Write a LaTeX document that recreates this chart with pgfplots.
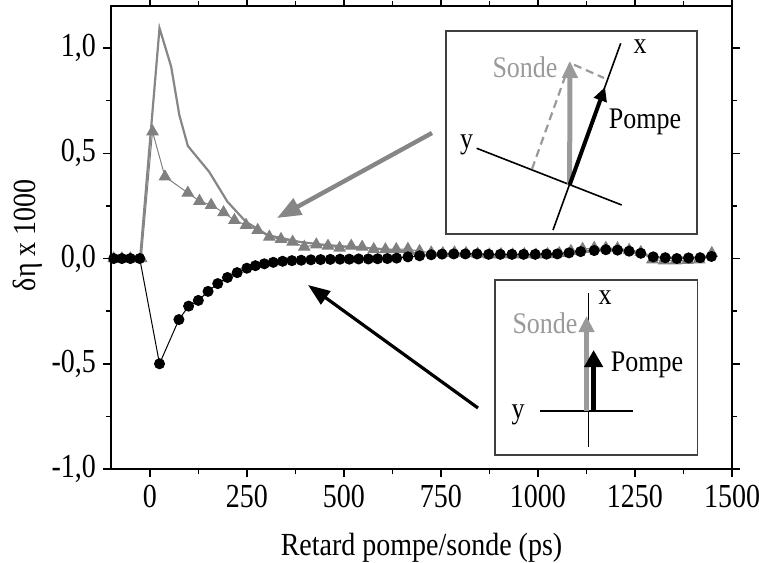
\documentclass[border=0pt]{standalone}
\usepackage{fontspec}
\setmainfont{Liberation Serif}
\usepackage{pgfplots}
\pgfplotsset{compat=1.18}
\usetikzlibrary{arrows.meta}
\definecolor{markgray}{HTML}{808080}
\definecolor{linegray}{HTML}{868686}
\definecolor{lightgray}{HTML}{9A9A9A}

\begin{document}
\begin{tikzpicture}
\path[use as bounding box] (-55.5pt,-46.5pt) rectangle (324pt,234.5pt);
\begin{axis}[
  at={(0pt,0pt)}, anchor=south west,
  scale only axis, width=310.5pt, height=231.5pt,
  xmin=-100, xmax=1500, ymin=-1, ymax=1.2,
  xtick distance=250, minor x tick num=1,
  ytick distance=0.5, minor y tick num=1,
  tick align=outside,
  major tick length=4pt, minor tick length=2.5pt,
  axis line style={line width=0.75pt},
  tick style={black, line width=0.75pt},
  /pgf/number format/.cd, use comma, 1000 sep={}, assume math mode=true,
  /pgfplots/.cd,
  yticklabel style={/pgf/number format/.cd, fixed, fixed zerofill, precision=1},
  tick label style={font=\fontsize{14}{16}\selectfont, yscale=1.2},
  label style={font=\fontsize{14}{16}\selectfont, yscale=1.15},
  xlabel={Retard pompe/sonde (ps)},
  ylabel={δη x 1000},
  xlabel style={at={(axis description cs:0.5,0)}, anchor=center, yshift=-34.3pt},
  ylabel style={at={(axis description cs:0,0.505)}, anchor=center, yshift=36.1pt},
]
% triangles
\addplot[markgray, line width=0.5pt, mark=triangle*, mark size=3.2pt,
  mark options={fill=markgray, draw=markgray}] coordinates {
(-93,0) (-72,0) (-50,0) (-22,0) (7,0.603) (39,0.389) (98,0.312) (128,0.273)
(158,0.254) (190,0.219) (218,0.182) (248,0.159) (278,0.135) (308,0.103)
(338,0.092) (368,0.079) (398,0.055) (429,0.066) (459,0.06) (489,0.05)
(519,0.06) (547,0.055) (577,0.044) (607,0.043) (635,0.044) (665,0.045)
(695,0.035) (725,0.028) (755,0.025) (785,0.028) (815,0.025) (845,0.022)
(875,0.018) (905,0.02) (935,0.018) (965,0.02) (995,0.018) (1025,0.02)
(1055,0.025) (1085,0.035) (1115,0.045) (1145,0.05) (1175,0.05) (1205,0.048)
(1235,0.04) (1265,0.03) (1295,-0.005) (1325,-0.01) (1355,-0.01) (1385,-0.008)
(1415,-0.005) (1448,0.025)
};
% circles
\addplot[black, line width=0.5pt, mark=*, mark size=2.5pt] coordinates {
(-93,0) (-72,0) (-50,0) (-26,0)
(25,-0.50) (75,-0.29) (100,-0.226) (125,-0.199) (150,-0.156) (175,-0.119)
(200,-0.09) (225,-0.067) (250,-0.046) (272,-0.034) (295,-0.025) (318,-0.018)
(342,-0.013) (366,-0.01) (390,-0.008) (415,-0.006) (440,-0.005) (465,-0.004)
(490,-0.003) (514,-0.003) (538,-0.002) (563,-0.002) (587,-0.001) (612,0.0)
(636,0.002) (665,0.008) (695,0.013) (725,0.018) (753,0.021) (783,0.022)
(813,0.022) (843,0.022) (873,0.02) (903,0.02) (933,0.02) (963,0.02)
(993,0.02) (1022,0.021) (1050,0.022) (1080,0.027) (1110,0.033) (1145,0.038)
(1175,0.042) (1205,0.04) (1235,0.035) (1265,0.025) (1297,0.008) (1328,0.004)
(1358,0.0) (1388,0.003) (1418,0.004) (1447,0.01)
};
% solid grey curve
\addplot[linegray, line width=1.1pt, no marks] coordinates {
(-100,0) (-25,0) (25,1.095) (55,0.912) (76,0.682) (98,0.535) (153,0.412)
(200,0.27) (248,0.174) (304,0.111) (386,0.079) (450,0.065) (520,0.055)
(600,0.045) (660,0.035) (700,0.016) (800,0.012) (900,0.012) (1000,0.014)
(1060,0.016) (1120,0.035) (1170,0.045) (1210,0.045) (1260,0.03) (1300,0.005)
(1450,0.005)
};
\end{axis}

% big arrows
\draw[linegray, line width=2.2pt, -{Triangle[length=12pt,width=9pt]}]
  (160.5pt,168pt) -- (83pt,125.5pt);
\draw[black, line width=1.6pt, -{Triangle[length=11pt,width=8pt]}]
  (183.5pt,30.5pt) -- (98.5pt,92pt);

% inset 1
\begin{scope}[font=\fontsize{13}{15}\selectfont]
\draw[black!75, line width=0.6pt, fill=white] (167.5pt,117.5pt) rectangle (293pt,219pt);
\draw[black, line width=0.8pt] (221pt,119.5pt) -- (254.85pt,212.85pt);
\draw[black, line width=0.8pt] (182.85pt,160.35pt) -- (255.35pt,132pt);
\node[yscale=1.15] at (264.5pt,211pt) {x};
\node[yscale=1.15] at (177.85pt,162pt) {y};
\draw[lightgray, line width=1.1pt, dash pattern=on 4pt off 2.5pt]
  (210.5pt,150pt) -- (229.5pt,203pt) -- (246.5pt,195.5pt);
\draw[lightgray, line width=2.5pt, -{Triangle[length=8.5pt,width=7.5pt]}]
  (229.3pt,142pt) -- (229.5pt,204pt);
\draw[black, line width=2pt, -{Triangle[length=7pt,width=6.5pt]}]
  (229.3pt,142pt) -- (247pt,191pt);
\node[text=lightgray, yscale=1.15] at (207pt,201pt) {Sonde};
\node[yscale=1.15] at (267pt,173.5pt) {Pompe};

% inset 2
\draw[black!75, line width=0.6pt, fill=white] (192pt,7pt) rectangle (293.35pt,94.5pt);
\draw[black, line width=0.8pt] (238.65pt,11.15pt) -- (238.65pt,88pt);
\draw[black, line width=0.8pt] (214.5pt,29pt) -- (261pt,29pt);
\node[yscale=1.15] at (247pt,85.5pt) {x};
\node[yscale=1.15] at (203.5pt,27pt) {y};
\draw[lightgray, line width=2.2pt, -{Triangle[length=8pt,width=7.5pt]}]
  (237.75pt,29pt) -- (237.75pt,76.5pt);
\draw[black, line width=2.5pt, -{Triangle[length=8.5pt,width=9pt]}]
  (241.3pt,29pt) -- (241.3pt,59.5pt);
\node[text=lightgray, yscale=1.15] at (217pt,73pt) {Sonde};
\node[yscale=1.15] at (268pt,52pt) {Pompe};
\end{scope}
\end{tikzpicture}
\end{document}
